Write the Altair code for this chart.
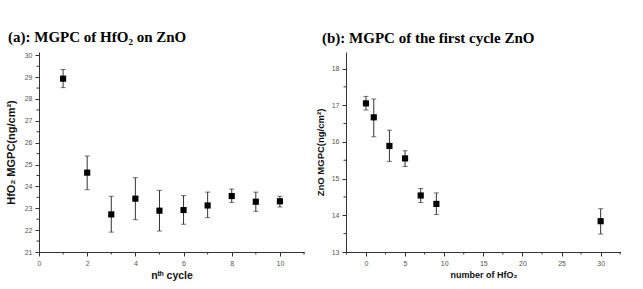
import altair as alt
import pandas as pd

# (a) HfO2 mass gain per cycle on ZnO, cycles 1-10
cycle = [1, 2, 3, 4, 5, 6, 7, 8, 9, 10]
hf_mean = [28.93, 24.63, 22.72, 23.44, 22.89, 22.92, 23.13, 23.56, 23.30, 23.32]
hf_hi = [29.35, 25.39, 23.55, 24.40, 23.82, 23.58, 23.74, 23.88, 23.74, 23.55]
hf_lo = [28.52, 23.85, 21.91, 22.48, 21.96, 22.27, 22.57, 23.27, 22.86, 23.06]

# (b) first-cycle ZnO mass gain vs number of HfO2 cycles
n_hfo2 = [0, 1, 3, 5, 7, 9, 30]
zn_mean = [17.05, 16.67, 15.89, 15.55, 14.54, 14.31, 13.84]
zn_hi = [17.24, 17.17, 16.32, 15.76, 14.73, 14.61, 14.18]
zn_lo = [16.87, 16.14, 15.47, 15.33, 14.35, 14.02, 13.49]

# axis tick positions
a_x_major = [0, 2, 4, 6, 8, 10]
a_x_minor = [1, 3, 5, 7, 9, 11]
a_y_major = [21, 22, 23, 24, 25, 26, 27, 28, 29, 30]
a_y_minor = [21.5, 22.5, 23.5, 24.5, 25.5, 26.5, 27.5, 28.5, 29.5]
b_x_major = [0, 5, 10, 15, 20, 25, 30]
b_x_minor = [-2.5, 2.5, 7.5, 12.5, 17.5, 22.5, 27.5, 32.5]
b_y_major = [13, 14, 15, 16, 17, 18]
b_y_minor = [13.5, 14.5, 15.5, 16.5, 17.5]

AXIS = "#333333"


def panel(x, mean, lo, hi, xdom, ydom, xmaj, xmin, ymaj, ymin,
          w, h, xtitle, ytitle, ytitle_size, xtitle_size, ytitle_pad,
          title, title_dx):
    df = pd.DataFrame({"x": x, "mean": mean, "lo": lo, "hi": hi})
    xs = alt.Scale(domain=xdom, nice=False, zero=False)
    ys = alt.Scale(domain=ydom, nice=False, zero=False)

    xaxis = alt.Axis(values=xmaj, title=xtitle, titleFontSize=xtitle_size,
                     labelFlush=False)
    yaxis = alt.Axis(values=ymaj, title=ytitle, titleFontSize=ytitle_size,
                     titlePadding=ytitle_pad)

    def X(f):
        return alt.X(f, scale=xs, axis=xaxis)

    def Y(f):
        return alt.Y(f, scale=ys, axis=yaxis)

    base = alt.Chart(df)
    bars = base.mark_rule(color=AXIS, strokeWidth=1).encode(
        x=X("x:Q"), y=Y("lo:Q"), y2="hi:Q",
    )
    cap_hi = base.mark_tick(orient="horizontal", size=5, thickness=1,
                            color=AXIS).encode(x=X("x:Q"), y=Y("hi:Q"))
    cap_lo = base.mark_tick(orient="horizontal", size=5, thickness=1,
                            color=AXIS).encode(x=X("x:Q"), y=Y("lo:Q"))
    pts = base.mark_square(size=38, color="black", opacity=1).encode(
        x=X("x:Q"), y=Y("mean:Q"),
    )

    # short minor ticks hanging outside the axis lines
    xm = alt.Chart(pd.DataFrame({"v": xmin})).mark_rule(
        color=AXIS, strokeWidth=1).encode(
        x=X("v:Q"), y=alt.value(h), y2=alt.value(h + 2.5),
    )
    ym = alt.Chart(pd.DataFrame({"v": ymin})).mark_rule(
        color=AXIS, strokeWidth=1).encode(
        y=Y("v:Q"), x=alt.value(0), x2=alt.value(-2.5),
    )

    return alt.layer(bars, cap_hi, cap_lo, pts, xm, ym).properties(
        width=w, height=h,
        title=alt.TitleParams(
            text=title, anchor="start", frame="group", dx=title_dx,
            font="Liberation Serif", fontSize=15, fontWeight="bold",
            color="black", offset=6,
        ),
    )


left = panel(cycle, hf_mean, hf_lo, hf_hi, [0, 11], [21, 30.15],
             a_x_major, a_x_minor, a_y_major, a_y_minor,
             265, 200, "nᵗʰ cycle", "HfO₂ MGPC(ng/cm²)", 11, 10.5, 8,
             "(a): MGPC of HfO₂ on ZnO", -31)
right = panel(n_hfo2, zn_mean, zn_lo, zn_hi, [-2.55, 32.6], [13, 18.45],
              b_x_major, b_x_minor, b_y_major, b_y_minor,
              275, 200, "number of HfO₂", "ZnO MGPC(ng/cm²)", 9.5, 9, 6,
              "(b): MGPC of the first cycle ZnO", -24)

chart = alt.hconcat(left, right, spacing=10).properties(
    padding={"left": 5, "top": 30, "right": 0, "bottom": 0},
).configure_view(stroke=None).configure_axis(
    grid=False,
    domainColor=AXIS,
    tickColor=AXIS,
    tickSize=4,
    labelColor="#555555",
    labelFont="Liberation Sans",
    labelFontSize=7,
    labelPadding=3,
    titleFont="Liberation Sans",
    titleFontWeight="bold",
    titleColor="#111111",
).configure_concat(spacing=10)

chart.save("out.html", embed_options={"renderer": "svg", "actions": False})
